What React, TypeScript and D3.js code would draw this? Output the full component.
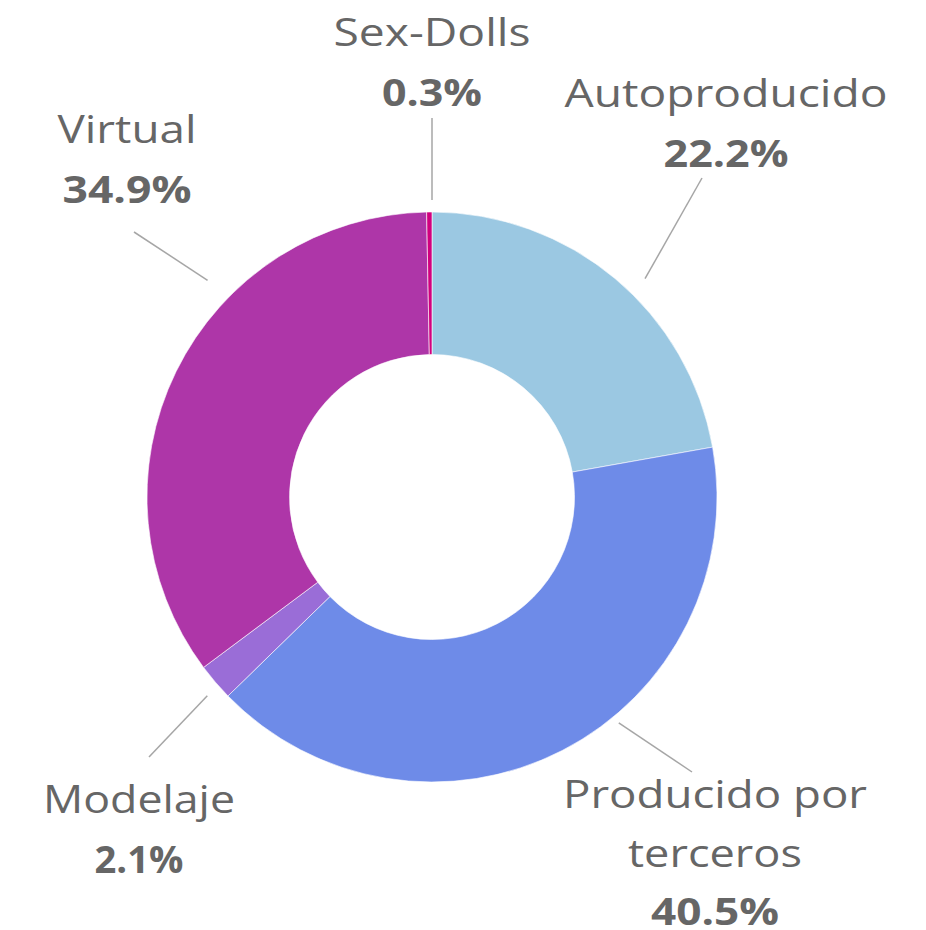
import React from "react";
import * as d3 from "d3";

const categories = ["Autoproducido", "Producido por terceros", "Modelaje", "Virtual", "Sex-Dolls"];
const values = [22.2, 40.5, 2.1, 34.9, 0.3];
const percentLabels = ["22.2%", "40.5%", "2.1%", "34.9%", "0.3%"];
const colors = ["#9BC8E2", "#6E8BE8", "#9A6DD7", "#AE36A8", "#D1007E"];

// layout for labels (Excel-style placed data labels)
const labelLayout = [
  { x: 726, lines: [{ t: "Autoproducido", y: 107, w: 323 }], pct: { y: 167, w: 125 }, lineAngle: 44.3, lineR: 305, lineEnd: [702, 178] },
  { x: 715, lines: [{ t: "Producido por", y: 808, w: 304 }, { t: "terceros", y: 867, w: 174 }], pct: { y: 925, w: 128 }, lineAngle: 140.4, lineR: 293, lineEnd: [692, 772] },
  { x: 139, lines: [{ t: "Modelaje", y: 813, w: 192 }], pct: { y: 873, w: 89 }, lineAngle: 228.5, lineR: 300, lineEnd: [149, 757] },
  { x: 127, lines: [{ t: "Virtual", y: 143, w: 139 }], pct: { y: 203, w: 129 }, lineAngle: 314, lineR: 312, lineEnd: [134, 232] },
  { x: 432, lines: [{ t: "Sex-Dolls", y: 46, w: 197 }], pct: { y: 106, w: 100 }, lineAngle: 0, lineR: 297, lineEnd: [432, 118] },
];

const W = 926;
const H = 930;
const cx = 432;
const cy = 497;
const outerR = 285;
const innerR = 142.5;

export default function App() {
  const pie = d3.pie<number>().sort(null).value((d) => d);
  const arcs = pie(values);
  const arc = d3.arc<d3.PieArcDatum<number>>().innerRadius(innerR).outerRadius(outerR);
  const textColor = "#666666";
  return (
    <div style={{ position: "absolute", left: 0, top: 0, width: W, height: H, background: "#fff" }}>
      <svg width={W} height={H} style={{ display: "block" }}>
        <g transform={`translate(${cx},${cy})`}>
          {arcs.map((a, i) => (
            <path key={categories[i]} d={arc(a) || ""} fill={colors[i]} stroke="#ffffff" strokeWidth={0.6} />
          ))}
        </g>
        {labelLayout.map((L, i) => {
          const ang = (L.lineAngle * Math.PI) / 180;
          const x1 = cx + L.lineR * Math.sin(ang);
          const y1 = cy - L.lineR * Math.cos(ang);
          return (
            <g key={"lab" + i}>
              <line x1={x1} y1={y1} x2={L.lineEnd[0]} y2={L.lineEnd[1]} stroke="#A6A6A6" strokeWidth={1.5} />
              {L.lines.map((ln) => (
                <text
                  key={ln.t}
                  x={L.x}
                  y={ln.y}
                  textAnchor="middle"
                  fontFamily="'Open Sans', sans-serif"
                  fontSize={39}
                  fontWeight={400}
                  fill={textColor}
                  textLength={ln.w}
                  lengthAdjust="spacingAndGlyphs"
                >
                  {ln.t}
                </text>
              ))}
              <text
                x={L.x}
                y={L.pct.y}
                textAnchor="middle"
                fontFamily="'Open Sans', sans-serif"
                fontSize={38}
                fontWeight={700}
                fill={textColor}
                textLength={L.pct.w}
                lengthAdjust="spacingAndGlyphs"
              >
                {percentLabels[i]}
              </text>
            </g>
          );
        })}
      </svg>
    </div>
  );
}
